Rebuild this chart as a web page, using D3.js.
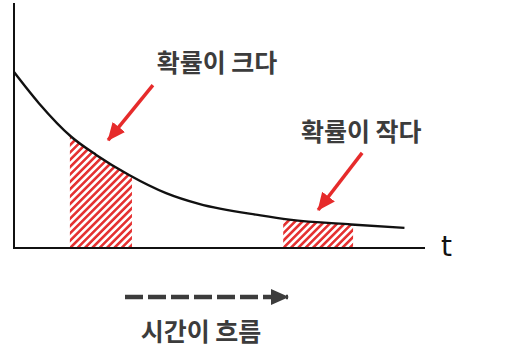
<!DOCTYPE html>
<html>
<head>
<meta charset="utf-8">
<script src="https://cdn.jsdelivr.net/npm/d3@7"></script>
<style>
  body { margin: 0; background: #fff; }
  text { font-family: "Noto Sans CJK KR", "Noto Sans", sans-serif; }
</style>
</head>
<body>
<div id="chart"></div>
<script>
// curve (t, density)
var timeT = [0, 0.6, 1.4, 2.0, 2.8, 3.7, 4.5, 6.0, 6.7, 8.2, 9.5];
var density = [0.718, 0.592, 0.453, 0.380, 0.298, 0.224, 0.180, 0.133, 0.116, 0.096, 0.082];

// hatched intervals
var shadeRanges = [[1.36, 2.87], [6.55, 8.25]];

// annotations: label + arrow tail/tip in data units
var noteLabels = ["확률이 크다", "확률이 작다"];
var noteTextPos = [[4.94, 0.72], [8.45, 0.437]];
var noteArrowTail = [[3.38, 0.665], [8.47, 0.388]];
var noteArrowTip = [[2.29, 0.44], [7.40, 0.155]];

var axisLabel = "t";
var flowLabel = "시간이 흐름";

function init() {
    var W = 515, H = 350;
    var x = d3.scaleLinear().domain([0, 10]).range([14, 425]);
    var y = d3.scaleLinear().domain([0, 1]).range([248, 3]);

    var svg = d3.select("#chart").append("svg")
        .attr("width", W).attr("height", H);

    var defs = svg.append("defs");

    // red diagonal hatch
    var pat = defs.append("pattern")
        .attr("id", "hatch")
        .attr("patternUnits", "userSpaceOnUse")
        .attr("width", 5.2).attr("height", 5.2)
        .attr("patternTransform", "rotate(45)");
    pat.append("rect")
        .attr("width", 2.6).attr("height", 5.2)
        .attr("fill", "#e53232");

    function head(id, color) {
        defs.append("marker")
            .attr("id", id)
            .attr("markerUnits", "userSpaceOnUse")
            .attr("viewBox", "0 -9 18 18")
            .attr("refX", 17).attr("refY", 0)
            .attr("markerWidth", 18).attr("markerHeight", 18)
            .attr("orient", "auto")
            .append("path")
            .attr("d", "M0,-8L18,0L0,8Z")
            .attr("fill", color);
    }
    head("redHead", "#e62b2b");
    head("grayHead", "#3c3c3c");

    var pts = timeT.map((t, i) => [t, density[i]]);

    // clip = area under the curve
    var underArea = d3.area()
        .x(d => x(d[0]))
        .y0(y(0))
        .y1(d => y(d[1]))
        .curve(d3.curveMonotoneX);
    defs.append("clipPath").attr("id", "under")
        .append("path").attr("d", underArea(pts));

    svg.append("g")
        .attr("clip-path", "url(#under)")
        .selectAll("rect")
        .data(shadeRanges)
        .enter()
        .append("rect")
        .attr("x", d => x(d[0]))
        .attr("width", d => x(d[1]) - x(d[0]))
        .attr("y", 0)
        .attr("height", y(0))
        .attr("fill", "url(#hatch)");

    // axes
    svg.append("line")
        .attr("x1", x(0)).attr("x2", x(0))
        .attr("y1", y(1)).attr("y2", y(0))
        .attr("stroke", "#111").attr("stroke-width", 2);
    svg.append("line")
        .attr("x1", x(0) - 1).attr("x2", x(10))
        .attr("y1", y(0)).attr("y2", y(0))
        .attr("stroke", "#111").attr("stroke-width", 2);
    svg.append("text")
        .attr("x", x(10) + 16).attr("y", y(0) + 8)
        .style("font-family", "'DejaVu Sans', sans-serif")
        .attr("font-size", 28)
        .attr("fill", "#111")
        .text(axisLabel);

    // the curve
    var line = d3.line()
        .x(d => x(d[0]))
        .y(d => y(d[1]))
        .curve(d3.curveMonotoneX);
    svg.append("path")
        .attr("d", line(pts))
        .attr("fill", "none")
        .attr("stroke", "#111")
        .attr("stroke-width", 2.4);

    // annotations
    noteLabels.forEach((lab, i) => {
        svg.append("text")
            .attr("x", x(noteTextPos[i][0]))
            .attr("y", y(noteTextPos[i][1]))
            .attr("text-anchor", "middle")
            .attr("font-size", 25)
            .attr("font-weight", "bold")
            .attr("fill", "#3c3c3c")
            .text(lab);
        svg.append("line")
            .attr("x1", x(noteArrowTail[i][0]))
            .attr("y1", y(noteArrowTail[i][1]))
            .attr("x2", x(noteArrowTip[i][0]))
            .attr("y2", y(noteArrowTip[i][1]))
            .attr("stroke", "#e62b2b")
            .attr("stroke-width", 3.5)
            .attr("marker-end", "url(#redHead)");
    });

    // dashed "time flows" arrow
    svg.append("line")
        .attr("x1", 125).attr("x2", 288)
        .attr("y1", 297).attr("y2", 297)
        .attr("stroke", "#3c3c3c")
        .attr("stroke-width", 4.5)
        .attr("stroke-dasharray", "18,5")
        .attr("marker-end", "url(#grayHead)");
    svg.append("text")
        .attr("x", 201).attr("y", 341)
        .attr("text-anchor", "middle")
        .attr("font-size", 25)
        .attr("font-weight", "bold")
        .attr("fill", "#3c3c3c")
        .text(flowLabel);
}

window.onload = init;
</script>
</body>
</html>
